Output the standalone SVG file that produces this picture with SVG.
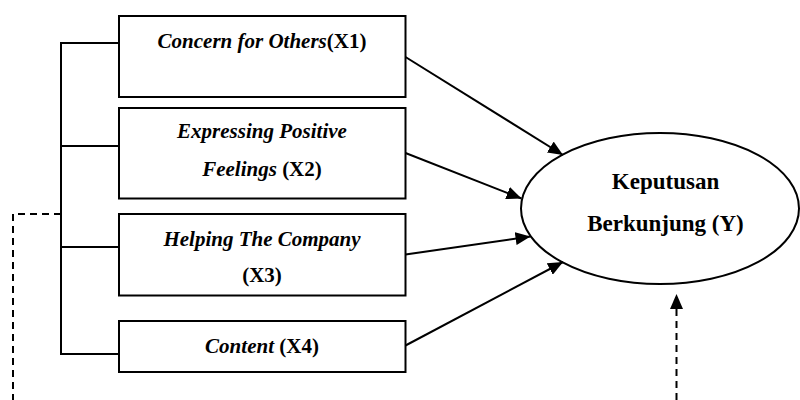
<svg xmlns="http://www.w3.org/2000/svg" width="800" height="400" viewBox="0 0 800 400">
<style>
  .box { fill: #ffffff; stroke: #000000; stroke-width: 2; }
  .line { fill: none; stroke: #000000; stroke-width: 2; }
  .dash { fill: none; stroke: #000000; stroke-width: 2; stroke-dasharray: 7 5; }
  .t { font-family: "Liberation Serif", "Times New Roman", Times, serif; font-weight: bold; fill: #000000; text-anchor: middle; }
  .bt { font-size: 21px; }
  .et { font-size: 23px; }
  .i { font-style: italic; }
</style>
<defs>
  <marker id="ah" markerUnits="userSpaceOnUse" markerWidth="15" markerHeight="13" refX="15" refY="6.5" orient="auto">
    <path d="M0,0 L15,6.5 L0,13 z" fill="#000000"/>
  </marker>
</defs>
<rect width="800" height="400" fill="#ffffff"/>

<g id="connectors">
  <polyline class="line" points="119,43 61,43 61,354 119,354"/>
  <line class="line" x1="61" y1="146" x2="119" y2="146"/>
  <line class="line" x1="61" y1="247" x2="119" y2="247"/>
  <polyline class="dash" points="61,214 13,214 13,400"/>
  <line class="dash" x1="676.5" y1="400" x2="676.5" y2="294" marker-end="url(#ah)"/>
  <line class="line" x1="405.5" y1="57" x2="563" y2="155" marker-end="url(#ah)"/>
  <line class="line" x1="405.5" y1="153" x2="521.5" y2="198.5" marker-end="url(#ah)"/>
  <line class="line" x1="405.5" y1="254.5" x2="530.5" y2="236.5" marker-end="url(#ah)"/>
  <line class="line" x1="405.5" y1="345.5" x2="563" y2="262" marker-end="url(#ah)"/>
</g>

<g id="x1">
  <rect class="box" x="119" y="16" width="286.5" height="81"/>
  <text class="t bt" x="262" y="48"><tspan class="i">Concern for Others</tspan>(X1)</text>
</g>
<g id="x2">
  <rect class="box" x="119" y="108" width="286.5" height="90.5"/>
  <text class="t bt i" x="262" y="138">Expressing Positive</text>
  <text class="t bt" x="262" y="176"><tspan class="i">Feelings</tspan> (X2)</text>
</g>
<g id="x3">
  <rect class="box" x="119" y="214" width="286.5" height="81.5"/>
  <text class="t bt i" x="262" y="246">Helping The Company</text>
  <text class="t bt" x="262" y="282">(X3)</text>
</g>
<g id="x4">
  <rect class="box" x="119" y="321" width="286.5" height="51"/>
  <text class="t bt" x="262" y="352.5"><tspan class="i">Content</tspan> (X4)</text>
</g>
<g id="y">
  <ellipse class="line" cx="660" cy="208.5" rx="139" ry="75.5" fill="#ffffff"/>
  <text class="t et" x="665.5" y="189">Keputusan</text>
  <text class="t et" x="665.5" y="231">Berkunjung (Y)</text>
</g>
</svg>
